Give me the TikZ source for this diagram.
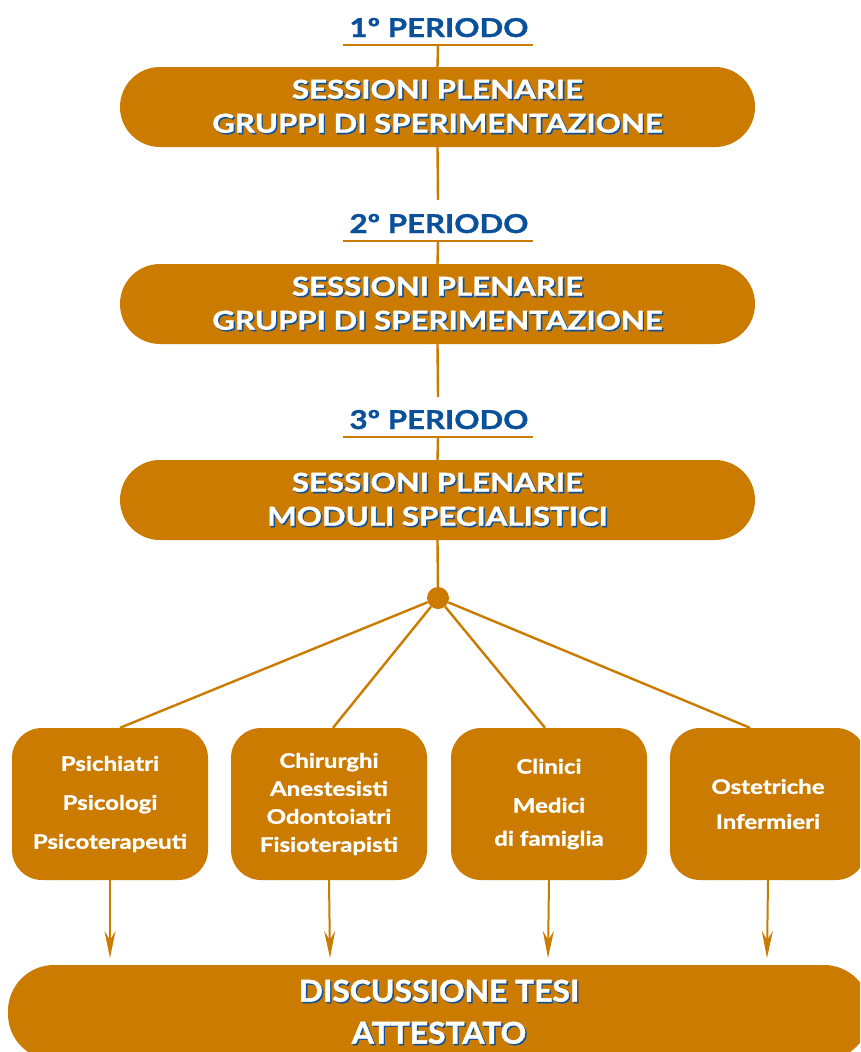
\documentclass[tikz,border=0pt]{standalone}
\usepackage{fontspec}
\setmainfont{Lato}
\newfontfamily\gs{Lato Bold}[FakeStretch=1.2, FakeBold=1.3]
\newfontfamily\gsb{Lato Bold}[FakeStretch=1.06, FakeBold=1.5]
\usetikzlibrary{arrows.meta}
\definecolor{org}{RGB}{202,123,0}
\definecolor{blu}{RGB}{10,80,155}
\newcommand\shd[1]{\rlap{\kern1.4pt\raisebox{-1.4pt}{\color{blu}#1}}#1}
\begin{document}
\begin{tikzpicture}[x=1pt,y=-1pt,
  pill/.style={fill=org, rounded corners=40pt, minimum width=635pt, minimum height=80pt,
    inner sep=0pt, text=white, font=\gs\fontsize{26}{34}\selectfont, align=center},
  card/.style={fill=org, rounded corners=30pt, minimum width=196pt, minimum height=152pt,
    inner sep=0pt, text=white, font=\gs\fontsize{20}{28}\selectfont, align=center},
  per/.style={text=blu, font=\gs\fontsize{26}{30}\selectfont, inner sep=0pt, anchor=base},
  conn/.style={draw=org, line width=2.4pt},
  uline/.style={draw=org, line width=2.6pt},
  arr/.style={draw=org, line width=2pt, -{Stealth[length=27pt,width=11pt,inset=9pt]}}]
\useasboundingbox (0,0) rectangle (860,1052);
\begin{scope}
\clip (0,0) rectangle (860,1052);
% period labels
\node[per] (p1) at (439,37) {1º PERIODO};
\node[per] (p2) at (439,233) {2º PERIODO};
\node[per] (p3) at (439,429) {3º PERIODO};
\coordinate (u1a) at (343,45); \coordinate (u1b) at (533,45); \coordinate (u1) at (438,45);
\coordinate (u2a) at (343,241); \coordinate (u2b) at (533,241); \coordinate (u2) at (438,241);
\coordinate (u3a) at (343,437); \coordinate (u3b) at (533,437); \coordinate (u3) at (438,437);
\coordinate (g2) at (438,200); \coordinate (g3) at (438,397);
% pills
\node[pill] (b1) at (437.5,107) {\shd{SESSIONI PLENARIE}\\\shd{GRUPPI DI SPERIMENTAZIONE}};
\node[pill] (b2) at (437.5,304) {\shd{SESSIONI PLENARIE}\\\shd{GRUPPI DI SPERIMENTAZIONE}};
\node[pill] (b3) at (437.5,500) {\shd{SESSIONI PLENARIE}\\\shd{MODULI SPECIALISTICI}};
\draw[uline] (u1a) -- (u1b);
\draw[uline] (u2a) -- (u2b);
\draw[uline] (u3a) -- (u3b);
\draw[conn] (u1) -- (b1.north);
\draw[conn] (b1.south) -- (g2);
\draw[conn] (u2) -- (b2.north);
\draw[conn] (b2.south) -- (g3);
\draw[conn] (u3) -- (b3.north);
% dot
\node[circle, fill=org, minimum size=22pt, inner sep=0pt] (dot) at (438,598) {};
\draw[conn] (b3.south) -- (dot);
% cards
\node[card] (c1) at (110,804) {Psichiatri\\[11pt]Psicologi\\[11pt]Psicoterapeuti};
\node[card] (c2) at (329,804) {Chirurghi\\Anestesisti\\Odontoiatri\\Fisioterapisti};
\node[card] (c3) at (549,804) {Clinici\\[11pt]Medici\\[5pt]di famiglia};
\node[card] (c4) at (768,804) {Ostetriche\\[7pt]Infermieri};
\draw[conn] (dot) -- ([xshift=10pt]c1.north);
\draw[conn] (dot) -- ([xshift=4pt]c2.north);
\draw[conn] (dot) -- ([xshift=-4pt]c3.north);
\draw[conn] (dot) -- ([xshift=-18pt]c4.north);
% bottom
\node[pill, minimum width=862pt, minimum height=95pt, rounded corners=46pt,
  font=\gsb\fontsize{30}{42}\selectfont] (fin) at (439,1012.5)
  {\shd{DISCUSSIONE TESI}\\\shd{ATTESTATO}};
\coordinate (t1) at (110,958); \coordinate (t2) at (330,958);
\coordinate (t3) at (548,958); \coordinate (t4) at (767,958);
\draw[arr] (c1.south) -- (t1);
\draw[arr] (c2.south) -- (t2);
\draw[arr] (c3.south) -- (t3);
\draw[arr] (c4.south) -- (t4);
\end{scope}
\end{tikzpicture}
\end{document}
